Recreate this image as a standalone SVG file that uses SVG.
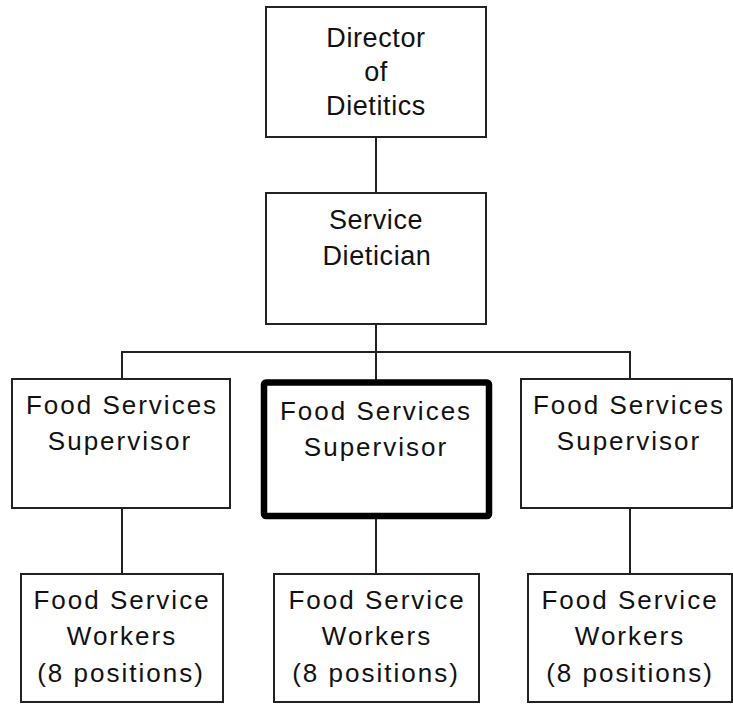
<svg xmlns="http://www.w3.org/2000/svg" width="733" height="704" viewBox="0 0 733 704">
<style>
.box{fill:#fff;stroke:#222;stroke-width:2}
.thick{fill:#fff;stroke:#000;stroke-width:6.5}
.t1{font-family:"Liberation Sans",Arial,sans-serif;font-size:27px;fill:#111;text-anchor:middle;letter-spacing:0.6px}
.t2{font-family:"Liberation Sans",Arial,sans-serif;font-size:26px;fill:#111;text-anchor:middle;letter-spacing:2px}
.c{stroke:#222;stroke-width:2;fill:none}
</style>
<rect width="733" height="704" fill="#fff"/>
<g id="connectors">
<line class="c" x1="376" y1="137" x2="376" y2="193"/>
<line class="c" x1="376" y1="324" x2="376" y2="382"/>
<line class="c" x1="121" y1="352" x2="631" y2="352"/>
<line class="c" x1="122" y1="351" x2="122" y2="379"/>
<line class="c" x1="630" y1="351" x2="630" y2="379"/>
<line class="c" x1="122" y1="508" x2="122" y2="574"/>
<line class="c" x1="376" y1="516" x2="376" y2="574"/>
<line class="c" x1="630" y1="508" x2="630" y2="574"/>
</g>
<g id="director">
<rect class="box" x="266" y="7" width="220" height="130"/>
<text class="t1" x="376" y="46.5">Director</text>
<text class="t1" x="376" y="80.5">of</text>
<text class="t1" x="376" y="115">Dietitics</text>
</g>
<g id="service-dietician">
<rect class="box" x="266" y="193" width="220" height="131"/>
<text class="t1" x="376" y="229">Service</text>
<text class="t1" x="377" y="265">Dietician</text>
</g>
<g id="supervisor-left">
<rect class="box" x="12" y="379" width="218" height="129"/>
<text class="t2" x="122" y="414">Food Services</text>
<text class="t2" x="120" y="450">Supervisor</text>
</g>
<g id="supervisor-center">
<rect class="thick" x="264" y="382.5" width="225" height="133.5" rx="2"/>
<text class="t2" x="376" y="420">Food Services</text>
<text class="t2" x="376" y="456">Supervisor</text>
</g>
<g id="supervisor-right">
<rect class="box" x="521" y="379" width="211" height="129"/>
<text class="t2" x="629" y="414">Food Services</text>
<text class="t2" x="629" y="450">Supervisor</text>
</g>
<g id="workers-left">
<rect class="box" x="21" y="574" width="202" height="128"/>
<text class="t2" x="122" y="609">Food Service</text>
<text class="t2" x="122" y="645">Workers</text>
<text class="t2" x="121" y="682">(8 positions)</text>
</g>
<g id="workers-center">
<rect class="box" x="274" y="574" width="205" height="128"/>
<text class="t2" x="377" y="609">Food Service</text>
<text class="t2" x="377" y="645">Workers</text>
<text class="t2" x="376" y="682">(8 positions)</text>
</g>
<g id="workers-right">
<rect class="box" x="528" y="574" width="204" height="128"/>
<text class="t2" x="630" y="609">Food Service</text>
<text class="t2" x="630" y="645">Workers</text>
<text class="t2" x="630" y="682">(8 positions)</text>
</g>
</svg>
